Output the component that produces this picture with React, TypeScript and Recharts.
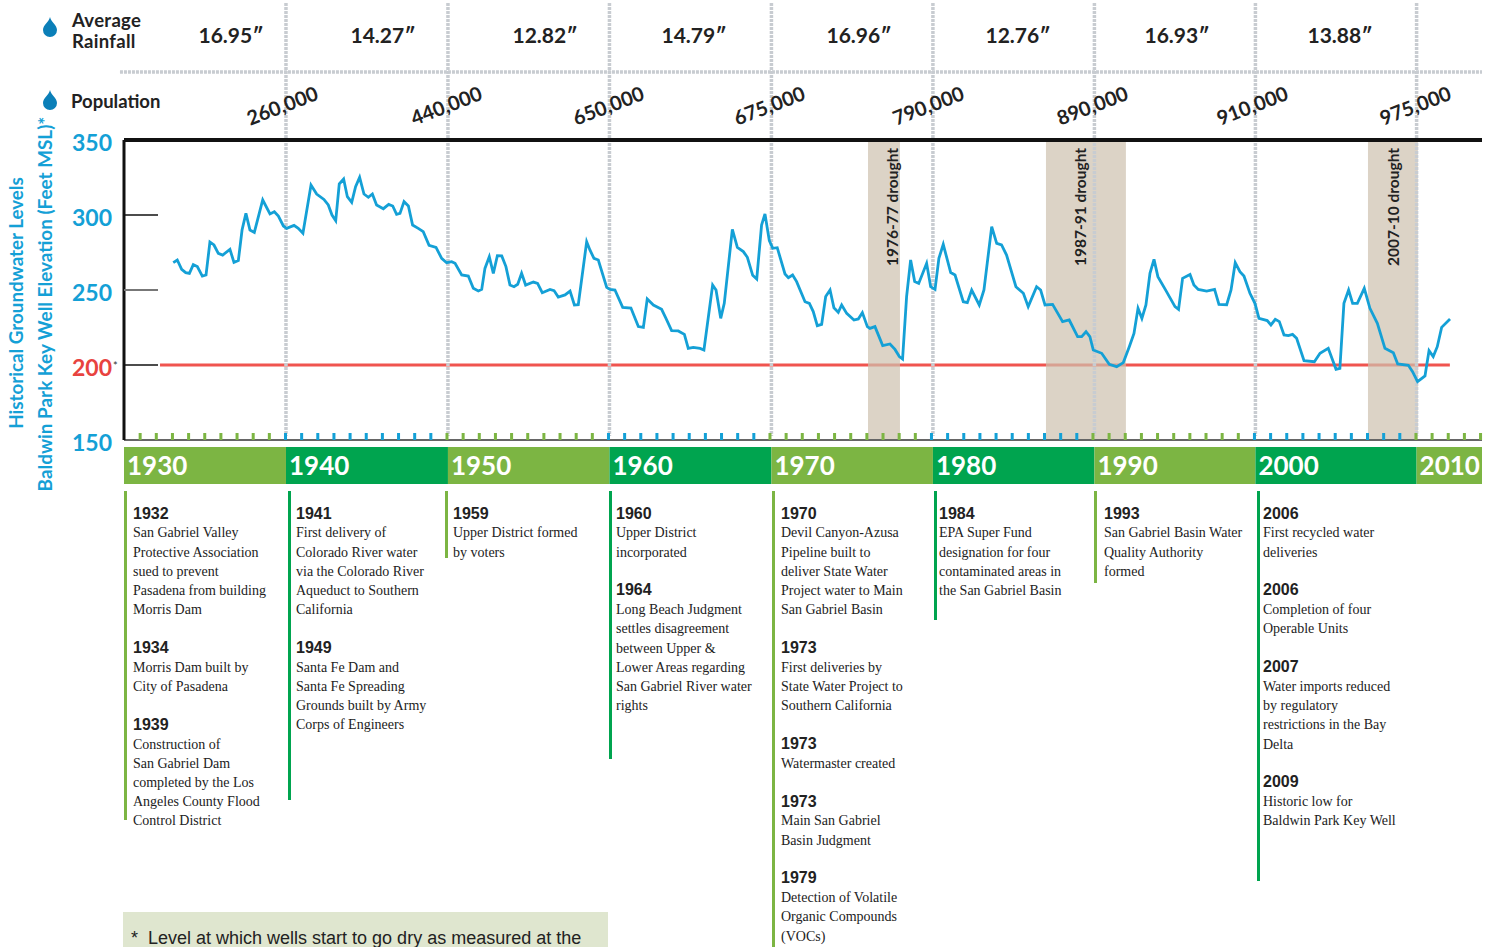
import React from 'react';
import { ComposedChart, Line, XAxis, YAxis, ReferenceArea, ReferenceLine } from 'recharts';

const years = [
  1933.05, 1933.3, 1933.57, 1933.82, 1934.05, 1934.29, 1934.54, 1934.85, 1935.08, 1935.32, 1935.57, 1935.84,
  1936.11, 1936.56, 1936.81, 1937.08, 1937.31, 1937.55, 1937.8, 1938.07, 1938.59, 1939.04, 1939.31, 1939.56, 1939.87,
  1940.07, 1940.53, 1940.79, 1941.08, 1941.58, 1941.93, 1942.38, 1942.65, 1942.88, 1943.11, 1943.33, 1943.6, 1943.83,
  1944.1, 1944.34, 1944.59, 1944.86, 1945.13, 1945.38, 1945.64, 1946.06, 1946.39, 1946.64, 1946.88, 1947.09, 1947.34,
  1947.61, 1947.87, 1948.22, 1948.53, 1948.89, 1949.32, 1949.67, 1949.98, 1950.29, 1950.5, 1950.91, 1951.32, 1951.63,
  1951.94, 1952.15, 1952.35, 1952.62, 1952.87, 1953.12, 1953.39, 1953.65, 1953.9, 1954.15, 1954.38, 1954.62, 1954.87,
  1955.35, 1955.61, 1955.9, 1956.38, 1956.63, 1956.89, 1957.31, 1957.62, 1957.89, 1958.13, 1958.65, 1958.85, 1959.1,
  1959.37, 1959.89, 1960.09, 1960.4, 1960.88, 1961.39, 1961.85, 1962.16, 1962.4, 1962.78, 1963.29, 1963.56, 1963.91,
  1964.32, 1964.7, 1964.94, 1965.25, 1965.67, 1965.91, 1966.45, 1966.66, 1966.95, 1967.17, 1967.67, 1967.98, 1968.35,
  1968.6, 1968.93, 1969.18, 1969.48, 1969.69, 1969.96, 1970.17, 1970.45, 1970.93, 1971.14, 1971.4, 1971.65, 1972.17,
  1972.44, 1972.68, 1972.93, 1973.2, 1973.45, 1973.72, 1973.96, 1974.23, 1974.44, 1974.75, 1975.2, 1975.47, 1975.72,
  1976.03, 1976.19, 1976.5, 1976.98, 1977.43, 1977.74, 1978.01, 1978.21, 1978.46, 1978.71, 1978.96, 1979.21, 1979.7,
  1979.95, 1980.22, 1980.46, 1980.73, 1981.19, 1981.46, 1981.97, 1982.22, 1982.49, 1982.96, 1983.25, 1983.73, 1984.04,
  1984.34, 1984.65, 1985.23, 1985.69, 1985.99, 1986.51, 1986.76, 1987.03, 1987.5, 1988.12, 1988.53, 1989.05, 1989.3,
  1989.57, 1989.81, 1990.02, 1990.54, 1991.01, 1991.47, 1991.88, 1992.25, 1992.54, 1992.79, 1993.03, 1993.28, 1993.53,
  1993.78, 1994.02, 1994.52, 1995.08, 1995.3, 1995.55, 1996.01, 1996.25, 1996.52, 1997.04, 1997.53, 1997.8, 1998.28,
  1998.55, 1998.81, 1999.1, 1999.35, 1999.72, 2000.03, 2000.28, 2000.79, 2001.02, 2001.29, 2001.54, 2001.83, 2002.1,
  2002.36, 2002.61, 2003.07, 2003.71, 2004.06, 2004.57, 2005.05, 2005.29, 2005.54, 2005.83, 2006.08, 2006.37, 2006.8,
  2007.15, 2007.61, 2008.08, 2008.6, 2008.87, 2009.53, 2009.79, 2010.1, 2010.56, 2010.81, 2011.07, 2011.32, 2011.59, 2012.11,
];
const levels = [
  268.2, 270, 263.8, 261.6, 261.1, 266.9, 265.6, 259.3, 260, 282, 280, 274.4,
  273.3, 277.1, 268.4, 269.6, 290, 301.1, 290, 288.4, 310, 300.7, 302.2, 299.3, 292.7,
  291.1, 293.1, 291.1, 287.8, 320, 314, 310.4, 306.7, 300, 296.2, 320.7, 324, 312.2,
  308.4, 318.9, 325.1, 314, 311.8, 314, 306.7, 304.2, 307.1, 306, 300.4, 301.1, 308.9,
  306, 293.3, 291.1, 288.9, 279.8, 278.4, 271.1, 268.2, 268.9, 267.8, 260, 259.3, 251.1,
  249.3, 250.4, 264.4, 272.2, 261.1, 272.9, 272.7, 265.6, 253.3, 252.2, 253.8, 261.1, 253.3,
  255.3, 254.4, 248.2, 250.4, 249.6, 245.3, 246.7, 249.3, 240, 240.2, 282.2, 276.7, 271.1,
  270, 251.8, 250.4, 250, 238.4, 238, 225.6, 225.1, 244, 240, 237.1, 231.1, 222.9,
  222.7, 220.4, 211.1, 211.8, 211.1, 210, 253.3, 250, 231.1, 241.1, 290.4, 278.4, 275.6,
  271.8, 259.8, 257.3, 293.3, 300.7, 282.9, 277.8, 278.2, 260.7, 258.2, 260, 255.6, 242.2,
  241.1, 235.6, 226.2, 227.1, 245.6, 250, 238.2, 235.1, 240, 234.4, 230, 230.7, 234.9,
  225.6, 224.4, 225.6, 212.9, 214, 210.4, 205.6, 204, 245.6, 270, 255.6, 254.4, 267.8,
  252.2, 250.4, 271.1, 280.4, 261.6, 260, 242.2, 241.6, 250, 240, 250, 292.2, 281.1,
  280, 273.3, 252.2, 247.8, 238.9, 252.2, 250, 240, 240.4, 228.9, 230, 218.9, 218.9,
  222.2, 218.9, 210, 207.8, 200.4, 198.9, 201.6, 212.2, 221.1, 237.8, 231.1, 240, 261.1,
  270.4, 258.9, 249.6, 238.9, 237.1, 257.8, 260.4, 253.3, 250.4, 249.3, 250.4, 240.4, 240.2,
  250, 268.2, 262.2, 259.3, 247.8, 241.1, 231.1, 229.6, 226.7, 230.4, 228.9, 220, 219.6,
  220.4, 217.8, 202.9, 202.2, 207.8, 211.1, 197.1, 197.8, 241.1, 250, 241.1, 241.1, 251.1,
  237.8, 227.8, 211.1, 208.2, 200.7, 199.8, 195.6, 188.9, 192.7, 209.6, 205.6, 212.2, 225.1, 230.7,
];
const wellData = years.map((year, i) => ({ year, level: levels[i] }));

const decades = [1930, 1940, 1950, 1960, 1970, 1980, 1990, 2000, 2010];
// where each decade boundary actually sits on the original timeline
const decadeMarks = [1930, 1940.03, 1950.06, 1960.06, 1970.09, 1980.09, 1990.09, 2000.06, 2010.04];
const levelTicks = [150, 200, 250, 300, 350];
const rainfall = ['16.95"', '14.27"', '12.82"', '14.79"', '16.96"', '12.76"', '16.93"', '13.88"'];
const population = ['260,000', '440,000', '650,000', '675,000', '790,000', '890,000', '910,000', '975,000'];
const droughtNames = ['1976-77 drought', '1987-91 drought', '2007-10 drought'];
const droughtStart = [1976.07, 1987.09, 2007.03];
const droughtEnd = [1978.05, 1992.04, 2010.12];

const col1 = [
  ['1932', 'San Gabriel Valley', 'Protective Association', 'sued to prevent', 'Pasadena from building', 'Morris Dam'],
  ['1934', 'Morris Dam built by', 'City of Pasadena'],
  ['1939', 'Construction of', 'San Gabriel Dam', 'completed by the Los', 'Angeles County Flood', 'Control District'],
];
const col2 = [
  ['1941', 'First delivery of', 'Colorado River water', 'via the Colorado River', 'Aqueduct to Southern', 'California'],
  ['1949', 'Santa Fe Dam and', 'Santa Fe Spreading', 'Grounds built by Army', 'Corps of Engineers'],
];
const col3 = [['1959', 'Upper District formed', 'by voters']];
const col4 = [
  ['1960', 'Upper District', 'incorporated'],
  ['1964', 'Long Beach Judgment', 'settles disagreement', 'between Upper &', 'Lower Areas regarding', 'San Gabriel River water', 'rights'],
];
const col5 = [
  ['1970', 'Devil Canyon-Azusa', 'Pipeline built to', 'deliver State Water', 'Project water to Main', 'San Gabriel Basin'],
  ['1973', 'First deliveries by', 'State Water Project to', 'Southern California'],
  ['1973', 'Watermaster created'],
  ['1973', 'Main San Gabriel', 'Basin Judgment'],
  ['1979', 'Detection of Volatile', 'Organic Compounds', '(VOCs)'],
];
const col6 = [['1984', 'EPA Super Fund', 'designation for four', 'contaminated areas in', 'the San Gabriel Basin']];
const col7 = [['1993', 'San Gabriel Basin Water', 'Quality Authority', 'formed']];
const col8 = [
  ['2006', 'First recycled water', 'deliveries'],
  ['2006', 'Completion of four', 'Operable Units'],
  ['2007', 'Water imports reduced', 'by regulatory', 'restrictions in the Bay', 'Delta'],
  ['2009', 'Historic low for', 'Baldwin Park Key Well'],
];

const LIGHT_GREEN = '#7cb543';
const DARK_GREEN = '#00a44f';
const BLUE = '#14a0d6';
const GREY = '#c8ccd1';
const LINE_H = 19.2;
const X_MAX = 2014.09;

const columns = [
  { rows: col1, rule: 125, text: 133, end: 820, color: LIGHT_GREEN },
  { rows: col2, rule: 289, text: 296, end: 800, color: DARK_GREEN },
  { rows: col3, rule: 446, text: 453, end: 558, color: LIGHT_GREEN },
  { rows: col4, rule: 610, text: 616, end: 759, color: DARK_GREEN },
  { rows: col5, rule: 773, text: 781, end: 947, color: LIGHT_GREEN },
  { rows: col6, rule: 935, text: 939, end: 620, color: DARK_GREEN },
  { rows: col7, rule: 1095, text: 1104, end: 583, color: LIGHT_GREEN },
  { rows: col8, rule: 1258, text: 1263, end: 881, color: DARK_GREEN },
];

const rainfallX = [231, 383, 545, 694, 859, 1018, 1177, 1340];
const populationX = [282, 446, 608, 769, 928, 1092, 1252, 1415];
const droughtLabelX = [892, 1080, 1393];

const yearTicks: number[] = [];
for (let y = 1931; y <= 2014; y++) yearTicks.push(y);

const YearTick = (props: any) => {
  const year = props.payload.value;
  const idx = Math.floor((year - 1930) / 10);
  return <rect x={props.x - 1.5} y={433} width={3} height={7} fill={idx % 2 ? BLUE : LIGHT_GREEN} />;
};

const LevelTick = (props: any) => {
  const v = props.payload.value;
  const y = props.y;
  const red = v === 200;
  return (
    <g>
      {v !== 150 && v !== 350 && (
        <line x1={124} x2={158} y1={y} y2={y} stroke={v === 250 ? '#777' : '#111'} strokeWidth={v === 250 ? 2 : 1.5} />
      )}
      <text x={112} y={y + 11} textAnchor="end" fontFamily="Lato" fontWeight={700} fontSize={23} fill={red ? '#e8433f' : BLUE}>
        {v}
      </text>
      {red && <text x={113} y={y + 5} fontFamily="Lato" fontSize={11} fill="#333">*</text>}
    </g>
  );
};

const Drop = ({ top }: { top: number }) => (
  <svg style={{ position: 'absolute', left: 42, top, width: 16, height: 20 }} viewBox="0 0 16 20">
    <path d="M8 0 C9 5 15 8 15 13 A7 7 0 0 1 1 13 C1 8 7 5 8 0 Z" fill="#0b7fb8" />
  </svg>
);

const Centered = ({ x, y, rotate = 0, style, children }: any) => (
  <div
    style={{
      position: 'absolute',
      left: x,
      top: y,
      transform: `translate(-50%, -50%) rotate(${rotate}deg)`,
      whiteSpace: 'nowrap',
      ...style,
    }}
  >
    {children}
  </div>
);

const App = () => {
  return (
    <div style={{ position: 'absolute', left: 0, top: 0, width: 1487, height: 947, overflow: 'hidden', background: '#fff' }}>
      <ComposedChart
        width={1487}
        height={947}
        data={wellData}
        margin={{ top: 140, right: 5, left: 0, bottom: 506 }}
      >
        <XAxis
          type="number"
          dataKey="year"
          domain={[1930, X_MAX]}
          ticks={yearTicks}
          interval={0}
          height={1}
          tick={YearTick}
          tickLine={false}
          axisLine={{ stroke: '#666', strokeWidth: 2 }}
        />
        <YAxis
          width={124}
          domain={[150, 350]}
          ticks={levelTicks}
          interval={0}
          tick={LevelTick}
          tickLine={false}
          axisLine={{ stroke: '#111', strokeWidth: 3 }}
        />
        <ReferenceLine segment={[{ x: 1932.23, y: 200 }, { x: 2012.1, y: 200 }]} stroke="#f0544f" strokeWidth={3} ifOverflow="visible" zIndex={50} />
        {droughtNames.map((name, i) => (
          <ReferenceArea key={name} x1={droughtStart[i]} x2={droughtEnd[i]} y1={150} y2={350} fill="#cdc0ae" fillOpacity={0.7} stroke="none" />
        ))}
        {decadeMarks.slice(1).map((d) => (
          <ReferenceLine
            key={d}
            segment={[{ x: d, y: 441.3 }, { x: d, y: 152.7 }]}
            stroke={GREY}
            strokeWidth={3.5}
            strokeDasharray="3 1"
            ifOverflow="visible"
          />
        ))}
        <ReferenceLine segment={[{ x: 1929.75, y: 395.3 }, { x: X_MAX, y: 395.3 }]} stroke={GREY} strokeWidth={3.5} strokeDasharray="3 1" ifOverflow="visible" />
        <ReferenceLine y={350} stroke="#111" strokeWidth={4} ifOverflow="visible" />
        {decades.map((d, i) => (
          <ReferenceArea
            key={d}
            x1={decadeMarks[i]}
            x2={i < decades.length - 1 ? decadeMarks[i + 1] : X_MAX}
            y1={145.3}
            y2={120.7}
            fill={i % 2 ? DARK_GREEN : LIGHT_GREEN}
            fillOpacity={1}
            stroke="none"
            ifOverflow="visible"
            label={{ value: String(d), position: 'insideLeft', offset: 3, fill: '#fff', fontSize: 26, fontFamily: 'Lato', fontWeight: 700 }}
          />
        ))}
        <Line dataKey="level" type="linear" stroke={BLUE} strokeWidth={2.8} dot={false} isAnimationActive={false} />
      </ComposedChart>

      <Drop top={17} />
      <Drop top={90} />
      <div style={{ position: 'absolute', left: 72, top: 10, fontFamily: 'Lato', fontWeight: 700, fontSize: 18.5, lineHeight: '21px', color: '#222', letterSpacing: 0.3 }}>
        Average
        <br />
        Rainfall
      </div>
      <div style={{ position: 'absolute', left: 71, top: 90, fontFamily: 'Lato', fontWeight: 700, fontSize: 18.5, lineHeight: '22px', color: '#222' }}>
        Population
      </div>
      {rainfall.map((r, i) => (
        <Centered key={r} x={rainfallX[i]} y={34} style={{ fontFamily: 'Lato', fontWeight: 700, fontSize: 21, color: '#222' }}>
          {r.replace('"', '\u2033')}
        </Centered>
      ))}
      {population.map((p, i) => (
        <Centered key={p} x={populationX[i]} y={105} rotate={-21} style={{ fontFamily: 'Lato', fontWeight: 700, fontSize: 20, color: '#222' }}>
          {p}
        </Centered>
      ))}
      {droughtNames.map((d, i) => (
        <Centered key={d} x={droughtLabelX[i]} y={207} rotate={-90} style={{ fontFamily: 'Lato', fontWeight: 700, fontSize: 15.5, color: '#222' }}>
          {d}
        </Centered>
      ))}
      <Centered x={15} y={303} rotate={-90} style={{ fontFamily: 'Lato', fontWeight: 700, fontSize: 18.8, color: BLUE }}>
        Historical Groundwater Levels
      </Centered>
      <Centered x={44} y={303.5} rotate={-90} style={{ fontFamily: 'Lato', fontWeight: 700, fontSize: 18.9, color: BLUE }}>
        Baldwin Park Key Well Elevation (Feet MSL)*
      </Centered>

      {columns.map((c) => (
        <React.Fragment key={c.rule}>
          <div style={{ position: 'absolute', left: c.rule - 1, top: 491, width: 2.5, height: c.end - 491, background: c.color }} />
          <div style={{ position: 'absolute', left: c.text, top: 503.5, lineHeight: `${LINE_H}px`, whiteSpace: 'nowrap' }}>
            {c.rows.map((row, r) => (
              <div key={r} style={{ marginBottom: LINE_H }}>
                {row.map((t, k) =>
                  k === 0 ? (
                    <div key={k} style={{ fontFamily: 'Liberation Sans', fontWeight: 700, fontSize: 16, color: '#222' }}>{t}</div>
                  ) : (
                    <div key={k} style={{ fontFamily: 'Liberation Serif', fontSize: 14, color: '#222', position: 'relative', top: 0.7 }}>{t}</div>
                  ),
                )}
              </div>
            ))}
          </div>
        </React.Fragment>
      ))}

      <div style={{ position: 'absolute', left: 123, top: 912, width: 485, height: 35, background: '#dfe6cf' }} />
      <div style={{ position: 'absolute', left: 131, top: 928, fontFamily: 'Liberation Sans', fontSize: 18, lineHeight: '21px', color: '#222', whiteSpace: 'pre' }}>
        {'*  Level at which wells start to go dry as measured at the'}
      </div>
    </div>
  );
};

export default App;
